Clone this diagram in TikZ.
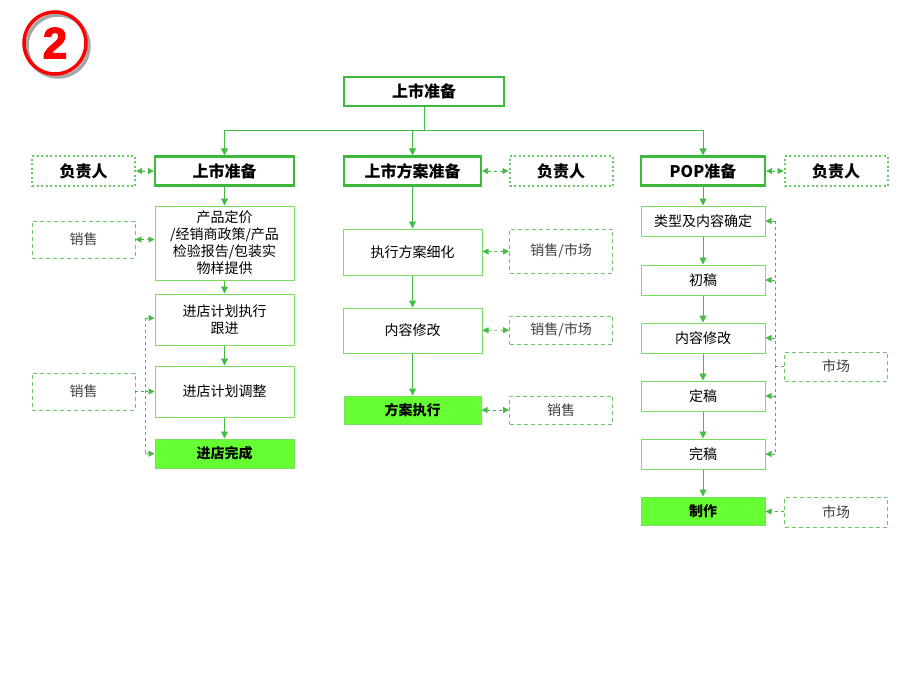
\documentclass[tikz,border=0pt]{standalone}
\usepackage{fontspec}
\setmainfont{Noto Sans CJK SC}
\newfontfamily\numfont{Liberation Sans Bold}[FakeBold=2.5]
\usetikzlibrary{arrows.meta}
\definecolor{gb}{HTML}{7ADF5A}
\definecolor{gh}{HTML}{3CB93C}
\definecolor{gf}{HTML}{66FF33}
\definecolor{ga}{HTML}{44BB44}
\begin{document}
\begin{tikzpicture}[x=1pt,y=-1pt,
 box/.style={draw=gb,line width=1pt,fill=white,minimum width=#1,align=center,font=\fontsize{14}{17}\selectfont,inner sep=1pt},
 box/.default=139,
 hd/.style={draw=gh,line width=2.2pt,fill=white,minimum width=#1,minimum height=29,font=\bfseries\fontsize{16}{19}\selectfont},
 hd/.default=139,
 fin/.style={draw=gb,fill=gf,line width=1pt,minimum width=#1,minimum height=29,font=\bfseries\fontsize{14}{17}\selectfont},
 fin/.default=139,
 dot/.style={draw=ga!80,line width=2pt,dash pattern=on 2pt off 2.5pt,fill=white,minimum width=103,minimum height=30,font=\bfseries\fontsize{16}{19}\selectfont},
 dsh/.style={draw=ga!80,line width=0.8pt,dash pattern=on 4pt off 3pt,fill=white,minimum width=103,font=\fontsize{14}{17}\selectfont,text=black!75},
 ar/.style={draw=ga,line width=0.8pt,-{Triangle[length=7pt,width=7pt]}},
 da/.style={draw=ga,line width=0.8pt,dashed,{Triangle[length=6pt,width=6pt]}-{Triangle[length=6pt,width=6pt]}},
 ds/.style={draw=ga,line width=0.8pt,dashed,-{Triangle[length=6pt,width=6pt]}},
 dl/.style={draw=ga,line width=0.8pt,dashed}]
\useasboundingbox (0,0) rectangle (920,690);
% badge
\node[circle,draw=black!35,line width=3.5pt,minimum size=62] (sh) at (58,46) {};
\node[circle,draw=red,line width=3.5pt,minimum size=62,text=red,font=\numfont\fontsize{44}{46}\selectfont] (badge) at (55,43) {2};
% top
\node[hd=160] (top) at (424,91.5) {上市准备};
\node[hd] (h1) at (224.5,171) {上市准备};
\node[hd=137] (h2) at (412.5,171) {上市方案准备};
\node[hd=124] (h3) at (703,171) {POP准备};
\coordinate (j) at (424,130);
\draw[ga,line width=0.8pt] (top.south) -- (j);
\draw[ga,line width=0.8pt] (h1.north|-j) -- (h3.north|-j);
\draw[ar] (h1.north|-j) -- (h1.north);
\draw[ar] (h2.north|-j) -- (h2.north);
\draw[ar] (h3.north|-j) -- (h3.north);
\node[dot] (r1) at (83.5,171) {负责人};
\node[dot] (r2) at (561,171) {负责人};
\node[dot] (r3) at (836,171) {负责人};
\draw[da] (r1) -- (h1);
\draw[da] (h2) -- (r2);
\draw[da] (h3) -- (r3);
% left
\node[box,minimum height=74] (a1) at (224.5,243) {产品定价\\/经销商政策/产品\\检验报告/包装实\\物样提供};
\node[box,minimum height=51] (a2) at (224.5,319.5) {进店计划执行\\跟进};
\node[box,minimum height=51] (a3) at (224.5,391.5) {进店计划调整};
\node[fin] (a4) at (224.5,453.5) {进店完成};
\draw[ar] (h1) -- (a1);
\draw[ar] (a1) -- (a2);
\draw[ar] (a2) -- (a3);
\draw[ar] (a3) -- (a4);
\node[dsh,minimum height=37] (s1) at (83.5,239.5) {销售};
\node[dsh,minimum height=37] (s2) at (83.5,391.5) {销售};
\draw[da] (s1) -- (s1-|a1.west);
\coordinate (bl) at (145,391.5);
\draw[dl] (s2.east) -- (bl);
\draw[ds] (145,318) -- (a2.west|-145,318);
\draw[dl] (145,318) -- (145,454);
\draw[ds] (bl) -- (a3.west);
\draw[ds] (145,454) -- (a4.west);
% middle
\node[box,minimum height=46] (b1) at (412.5,252) {执行方案细化};
\node[box,minimum height=45] (b2) at (412.5,330.5) {内容修改};
\node[fin=137,minimum height=28] (b3) at (412.5,410) {方案执行};
\draw[ar] (h2) -- (b1);
\draw[ar] (b1) -- (b2);
\draw[ar] (b2) -- (b3);
\node[dsh,minimum height=44] (m1) at (561,251) {销售/市场};
\node[dsh,minimum height=28] (m2) at (561,330) {销售/市场};
\node[dsh,minimum height=28] (m3) at (561,410) {销售};
\draw[da] (b1) -- (m1);
\draw[da] (b2) -- (m2);
\draw[da] (b3) -- (m3);
% right
\node[box=124,minimum height=30] (c1) at (703,221) {类型及内容确定};
\node[box=124,minimum height=30] (c2) at (703,280) {初稿};
\node[box=124,minimum height=30] (c3) at (703,338) {内容修改};
\node[box=124,minimum height=30] (c4) at (703,396) {定稿};
\node[box=124,minimum height=30] (c5) at (703,454) {完稿};
\node[fin=124,minimum height=28] (c6) at (703,511) {制作};
\draw[ar] (h3) -- (c1);
\draw[ar] (c1) -- (c2);
\draw[ar] (c2) -- (c3);
\draw[ar] (c3) -- (c4);
\draw[ar] (c4) -- (c5);
\draw[ar] (c5) -- (c6);
\node[dsh,minimum height=29] (k1) at (836,366.5) {市场};
\node[dsh,minimum height=30] (k2) at (836,512) {市场};
\coordinate (br) at (775,366.5);
\draw[dl] (k1.west) -- (br);
\draw[dl] (775,221) -- (775,454);
\foreach \n in {c1,c2,c3,c4,c5} \draw[ds] (\n.east-|775,0) -- (\n.east);
\draw[ds] (k2) -- (c6);
\end{tikzpicture}
\end{document}
